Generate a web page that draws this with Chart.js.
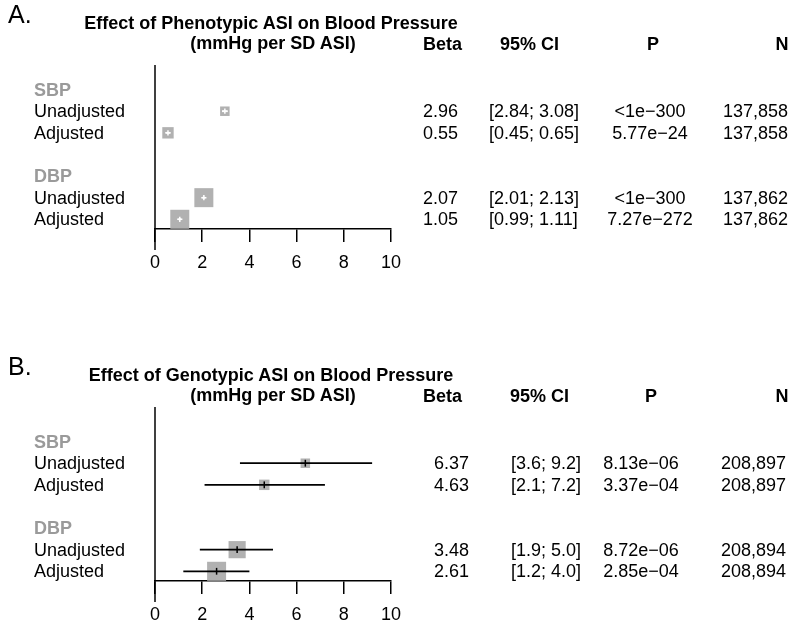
<!DOCTYPE html>
<html><head><meta charset="utf-8">
<script src="https://cdn.jsdelivr.net/npm/chart.js@4.4.1/dist/chart.umd.min.js"></script>
<style>
body{margin:0;width:800px;height:633px;position:relative;background:#fff;font-family:"Liberation Sans",Arial,Helvetica,sans-serif;color:#000;overflow:hidden}
.panel{position:absolute;left:0;width:800px;height:300px}
.t{position:absolute;white-space:nowrap;font-size:18px;line-height:20px;height:20px}
.b{font-weight:bold}
.g{color:#9a9a9a}
.letter{position:absolute;font-size:25px;line-height:28px;white-space:nowrap}
canvas{position:absolute;left:0;top:0}
</style></head><body>
<div class="panel" id="pA" style="top:0"><canvas id="cA" width="800" height="300"></canvas></div>
<div class="panel" id="pB" style="top:352px"><canvas id="cB" width="800" height="300"></canvas></div>
<script>
// ---------------- data ----------------
const groups = ["SBP", "DBP"];
const models = ["Unadjusted", "Adjusted"];
const headers = ["Beta", "95% CI", "P", "N"];
const xTicks = [0, 2, 4, 6, 8, 10];

const phenoTitle = ["Effect of Phenotypic ASI on Blood Pressure", "(mmHg per SD ASI)"];
const phenoBeta = [2.96, 0.55, 2.07, 1.05];
const phenoLo   = [2.84, 0.45, 2.01, 0.99];
const phenoHi   = [3.08, 0.65, 2.13, 1.11];
const phenoP    = ["<1e\u2212300", "5.77e\u221224", "<1e\u2212300", "7.27e\u2212272"];
const phenoN    = ["137,858", "137,858", "137,862", "137,862"];

const genoTitle = ["Effect of Genotypic ASI on Blood Pressure", "(mmHg per SD ASI)"];
const genoBeta = [6.37, 4.63, 3.48, 2.61];
const genoLo   = [3.6, 2.1, 1.9, 1.2];
const genoHi   = [9.2, 7.2, 5.0, 4.0];
const genoP    = ["8.13e\u221206", "3.37e\u221204", "8.72e\u221206", "2.85e\u221204"];
const genoN    = ["208,897", "208,897", "208,894", "208,894"];

// ---------------- drawing ----------------
const FONT = '"Liberation Sans", Arial, Helvetica, sans-serif';

const zeroLine = {
  id: 'zeroLine',
  beforeDatasetsDraw(chart, args, opts) {
    const ctx = chart.ctx;
    const x = chart.scales.x.getPixelForValue(0);
    const { top, bottom } = chart.chartArea;
    ctx.save();
    ctx.strokeStyle = '#000';
    ctx.lineWidth = 1.5;
    ctx.beginPath();
    ctx.moveTo(x, top - opts.above);
    ctx.lineTo(x, bottom + opts.below);
    ctx.stroke();
    ctx.restore();
  }
};

function addText(parent, txt, cls, left, cy, align) {
  const d = document.createElement('div');
  d.className = 't ' + (cls || '');
  d.textContent = txt;
  d.style.top = (cy - 10) + 'px';
  parent.appendChild(d);
  const w = d.getBoundingClientRect().width;
  if (align === 'center') d.style.left = (left - w / 2) + 'px';
  else if (align === 'right') d.style.left = (left - w) + 'px';
  else d.style.left = left + 'px';
  return d;
}

function makePanel(cfg) {
  const { canvasId, panelId, letter, title, beta, lo, hi, pv, nv, ciDec, cols, zeroAbove } = cfg;
  const rows = beta.map((_, i) => Math.floor(i / 2) * 4 + 2 + (i % 2));
  const inv = lo.map((l, i) => 1 / (hi[i] - l));
  const maxInv = Math.max(...inv);
  const side = inv.map(v => 19 * v / maxInv);
  const insideBox = (chart, i) => {
    const s = chart.scales.x;
    return Math.abs(s.getPixelForValue(hi[i]) - s.getPixelForValue(lo[i])) < side[i];
  };

  const datasets = [];
  beta.forEach((b, i) => {
    datasets.push({
      type: 'line',
      data: [{ x: lo[i], y: rows[i] }, { x: hi[i], y: rows[i] }],
      borderColor: c => insideBox(c.chart, i) ? '#ffffff' : '#000000',
      borderWidth: 1.8,
      pointRadius: 0,
      order: 1
    });
  });
  datasets.push({
    type: 'scatter',
    data: beta.map((b, i) => ({ x: b, y: rows[i] })),
    pointStyle: c => insideBox(c.chart, c.dataIndex) ? 'cross' : 'line',
    pointRotation: 90,
    pointRadius: c => insideBox(c.chart, c.dataIndex) ? 2.6 : 3.4,
    pointBorderWidth: 1.5,
    pointBorderColor: c => insideBox(c.chart, c.dataIndex) ? '#ffffff' : '#000000',
    order: 0
  });
  datasets.push({
    type: 'scatter',
    data: beta.map((b, i) => ({ x: b, y: rows[i] })),
    pointStyle: 'rect',
    pointRadius: c => side[c.dataIndex] / Math.SQRT2,
    pointBackgroundColor: '#b1b1b1',
    pointBorderWidth: 0,
    order: 2
  });

  const chart = new Chart(document.getElementById(canvasId), {
    type: 'scatter',
    data: { datasets },
    options: {
      animation: false,
      responsive: false,
      events: [],
      plugins: { legend: { display: false }, tooltip: { enabled: false }, zeroLine: { above: zeroAbove, below: 21 } },
      layout: { padding: { left: 155, right: 409, top: 68, bottom: 0 } },
      scales: {
        x: {
          type: 'linear', min: 0, max: 10, position: 'bottom',
          afterBuildTicks: s => { s.ticks = xTicks.map(v => ({ value: v })); },
          ticks: { font: { family: FONT, size: 18 }, color: '#000', padding: 10, maxRotation: 0 },
          grid: { drawOnChartArea: false, drawTicks: true, tickLength: 13, color: '#000', lineWidth: 1.5 },
          border: { display: true, color: '#000', width: 1.5 },
          afterFit: s => { s.height = 71; }
        },
        y: { type: 'linear', display: false, reverse: true, min: 0, max: 7.45 }
      }
    },
    plugins: [zeroLine]
  });

  const p = document.getElementById(panelId);
  const ys = chart.scales.y;
  const L = document.createElement('div');
  L.className = 'letter'; L.textContent = letter;
  L.style.left = '8px'; L.style.top = '0px';
  p.appendChild(L);
  addText(p, title[0], 'b', 271, 23, 'center');
  addText(p, title[1], 'b', 273, 43, 'center');
  addText(p, headers[0], 'b', cols.betaHead, 44, 'left');
  addText(p, headers[1], 'b', cols.ciHead, 44, 'left');
  addText(p, headers[2], 'b', cols.pHead, 44, 'center');
  addText(p, headers[3], 'b', cols.nHead, 44, 'center');
  groups.forEach((g, gi) => {
    addText(p, g, 'b g', 34, ys.getPixelForValue(gi * 4 + 1), 'left');
  });
  beta.forEach((b, i) => {
    const y = ys.getPixelForValue(rows[i]);
    addText(p, models[i % 2], '', 34, y, 'left');
    addText(p, b.toFixed(2), '', cols.beta, y, 'left');
    addText(p, '[' + lo[i].toFixed(ciDec) + '; ' + hi[i].toFixed(ciDec) + ']', '', cols.ci, y, 'left');
    addText(p, pv[i], '', cols.p, y, 'center');
    addText(p, nv[i], '', cols.n, y, 'right');
  });
  return chart;
}

makePanel({
  canvasId: 'cA', panelId: 'pA', letter: 'A.', title: phenoTitle,
  beta: phenoBeta, lo: phenoLo, hi: phenoHi, pv: phenoP, nv: phenoN, ciDec: 2,
  cols: { betaHead: 423, beta: 423, ciHead: 500, ci: 489, pHead: 653, p: 650, nHead: 782, n: 788 },
  zeroAbove: 3
});
makePanel({
  canvasId: 'cB', panelId: 'pB', letter: 'B.', title: genoTitle,
  beta: genoBeta, lo: genoLo, hi: genoHi, pv: genoP, nv: genoN, ciDec: 1,
  cols: { betaHead: 423, beta: 434, ciHead: 510, ci: 511, pHead: 651, p: 641, nHead: 782, n: 786 },
  zeroAbove: 13
});
</script>
</body></html>
